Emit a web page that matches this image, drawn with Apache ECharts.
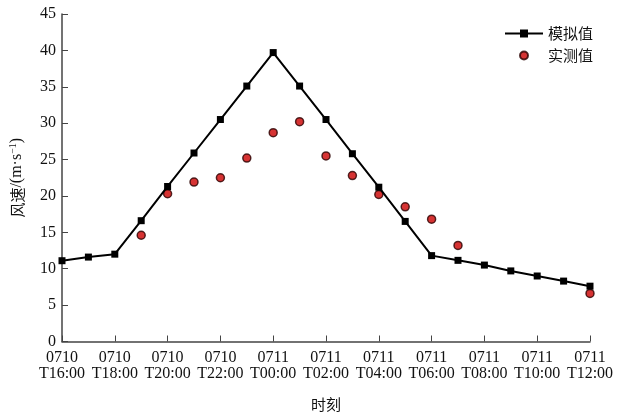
<!DOCTYPE html>
<html><head><meta charset="utf-8">
<script src="https://cdn.jsdelivr.net/npm/echarts@6/dist/echarts.min.js"></script>
<style>html,body{margin:0;padding:0;background:#fff}#c{width:621px;height:414px}</style>
</head><body><div id="c"></div>
<script>
const categories = ['0710\nT16:00','0710\nT17:00','0710\nT18:00','0710\nT19:00','0710\nT20:00','0710\nT21:00','0710\nT22:00','0710\nT23:00',
  '0711\nT00:00','0711\nT01:00','0711\nT02:00','0711\nT03:00','0711\nT04:00','0711\nT05:00','0711\nT06:00','0711\nT07:00',
  '0711\nT08:00','0711\nT09:00','0711\nT10:00','0711\nT11:00','0711\nT12:00'];
const simulated = [11.1,11.6,12.0,16.6,21.3,25.9,30.5,35.1,39.7,35.1,30.5,25.8,21.2,16.5,11.8,11.15,10.5,9.7,9.0,8.3,7.6];
const measured = [null,null,null,14.6,20.3,21.9,22.5,25.2,28.7,30.2,25.5,22.8,20.2,18.5,16.8,13.2,null,null,null,null,6.6];
const yTicks = {min:0,max:45,interval:5};
const serif = '"Liberation Serif","Times New Roman",serif';
const cjk = '"Noto Sans CJK SC",sans-serif';
const chart = echarts.init(document.getElementById('c'));
chart.setOption({
  animation:false,
  grid:{left:62,right:31,top:14,bottom:72.5,outerBoundsMode:'none',containLabel:false},
  legend:[{
    orient:'vertical', left:499, top:21, itemWidth:38, itemHeight:10, itemGap:10,
    textStyle:{fontFamily:cjk,fontSize:15,color:'#111'},
    data:['模拟值']
  },{
    orient:'vertical', left:514, top:43, itemWidth:38, itemHeight:8, itemGap:10,
    textStyle:{fontFamily:cjk,fontSize:15,color:'#111'},
    data:['实测值']
  }],
  xAxis:{
    type:'category', data:categories, boundaryGap:false,
    name:'时刻', nameLocation:'middle', nameGap:55,
    nameTextStyle:{fontFamily:cjk,fontSize:15,color:'#111'},
    axisLine:{lineStyle:{color:'#444',width:1.5}},
    axisTick:{inside:true,interval:1,length:6,lineStyle:{color:'#444'}},
    axisLabel:{interval:1,fontFamily:serif,fontSize:16,color:'#111',lineHeight:16,margin:8},
    splitLine:{show:false}
  },
  yAxis:{
    type:'value', min:yTicks.min, max:yTicks.max, interval:yTicks.interval,
    name:'{c|风速}{s|/(m·s}{sup|−1}{s|)}', nameLocation:'middle', nameGap:36,
    nameTextStyle:{color:'#111',rich:{
      c:{fontFamily:cjk,fontSize:15,color:'#111',lineHeight:18},
      s:{fontFamily:serif,fontSize:16,color:'#111',lineHeight:18},
      sup:{fontFamily:serif,fontSize:10,color:'#111',lineHeight:18,verticalAlign:'top',padding:[0,0,8,0]}
    }},
    axisLine:{show:true,lineStyle:{color:'#444',width:1.5}},
    axisTick:{show:true,inside:true,length:6,lineStyle:{color:'#444'}},
    axisLabel:{fontFamily:serif,fontSize:16,color:'#111',margin:6},
    splitLine:{show:false}
  },
  series:[
    {name:'模拟值',type:'line',data:simulated,symbol:'rect',symbolSize:7,
     lineStyle:{color:'#000',width:2},itemStyle:{color:'#000'},z:3},
    {name:'实测值',type:'scatter',data:measured,symbol:'circle',symbolSize:8,
     itemStyle:{color:'#cc0000',borderColor:'#2a0000',borderWidth:1.5},z:2}
  ]
});
</script></body></html>
